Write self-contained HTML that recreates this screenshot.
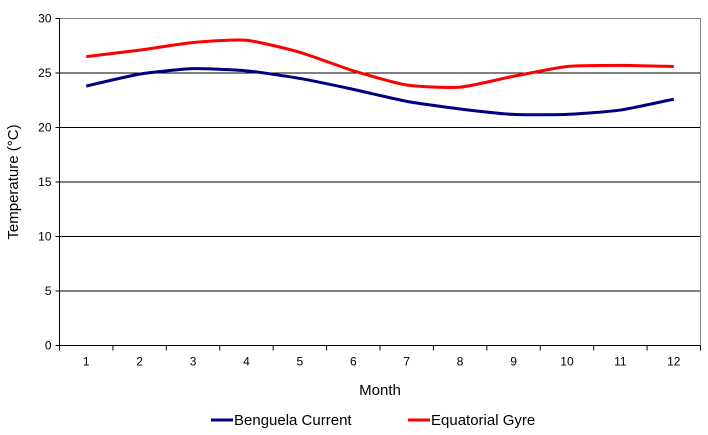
<!DOCTYPE html>
<html><head><meta charset="utf-8"><style>
body{margin:0;background:#fff;}
svg{display:block;font-family:"Liberation Sans",Arial,sans-serif;}
</style></head><body>
<svg id="chart" width="708" height="435" viewBox="0 0 708 435"></svg>
<script>
const months=["1","2","3","4","5","6","7","8","9","10","11","12"];
const benguela=[23.8,24.9,25.4,25.2,24.5,23.5,22.4,21.7,21.2,21.2,21.6,22.6];
const equatorial=[26.5,27.1,27.8,28.0,26.9,25.2,23.9,23.7,24.7,25.6,25.7,25.6];
const yTicks=[0,5,10,15,20,25,30];
const NS="http://www.w3.org/2000/svg";
const svg=document.getElementById('chart');
const L=59.5,R=700.5,T=18.5,B=345.5;
const bw=(R-L)/months.length;
function x(i){return L+bw*(i+0.5);}
function y(v){return B-(v/30)*(B-T);}
function mk(t,a,parent){const e=document.createElementNS(NS,t);for(const k in a)e.setAttribute(k,a[k]);(parent||svg).appendChild(e);return e;}
yTicks.forEach(v=>{
  if(v>0){const g=mk('line',{x1:L,x2:R,y1:y(v),y2:y(v),stroke:'#000','stroke-width':1});
  
  }
  const tk=mk('line',{x1:L-4,x2:L,y1:y(v),y2:y(v),stroke:'#000'});
  
  
  const t=mk('text',{x:L-8,y:y(v)+4,'text-anchor':'end','font-size':12,fill:'#000'});
  t.textContent=v;
  
  
});
const frame=mk('rect',{x:L,y:T,width:R-L,height:B-T,fill:'none',stroke:'#808080'});


const xa=mk('line',{x1:L,x2:R,y1:B,y2:B,stroke:'#000'});


const ya=mk('line',{x1:L,x2:L,y1:T,y2:B,stroke:'#000'});


for(let i=0;i<=months.length;i++){
  const tk=mk('line',{x1:L+bw*i,x2:L+bw*i,y1:B,y2:B+5,stroke:'#000'});
  
  
}
months.forEach((m,i)=>{
  const t=mk('text',{x:x(i),y:B+20,'text-anchor':'middle','font-size':12});
  t.textContent=m;
  
  
});
function smooth(vals){
  const p=vals.map((v,i)=>[x(i),y(v)]);
  let d='M'+p[0][0]+','+p[0][1];
  const k=10;
  for(let i=0;i<p.length-1;i++){
    const p0=p[i-1]||p[i],p1=p[i],p2=p[i+1],p3=p[i+2]||p2;
    const c1=[p1[0]+(p2[0]-p0[0])/k,p1[1]+(p2[1]-p0[1])/k];
    const c2=[p2[0]-(p3[0]-p1[0])/k,p2[1]-(p3[1]-p1[1])/k];
    d+=' C'+c1+' '+c2+' '+p2;
  }
  return d;
}
const s1=mk('path',{d:smooth(benguela),fill:'none',stroke:'#000080','stroke-width':3,'stroke-linejoin':'round'});


const s2=mk('path',{d:smooth(equatorial),fill:'none',stroke:'#ff0000','stroke-width':3,'stroke-linejoin':'round'});


</script>
<svg width="708" height="435" style="position:absolute;left:0;top:0">
<text x="380" y="395" text-anchor="middle" font-size="15">Month</text>
<text transform="translate(18,182) rotate(-90)" text-anchor="middle" font-size="15">Temperature (°C)</text>
<g>
<line x1="211" x2="233" y1="420" y2="420" stroke="#000080" stroke-width="3"/>
<text x="234" y="425" font-size="15">Benguela Current</text></g>
<g>
<line x1="408" x2="430" y1="420" y2="420" stroke="#ff0000" stroke-width="3"/>
<text x="431" y="425" font-size="15">Equatorial Gyre</text></g>
</svg>
</body></html>
